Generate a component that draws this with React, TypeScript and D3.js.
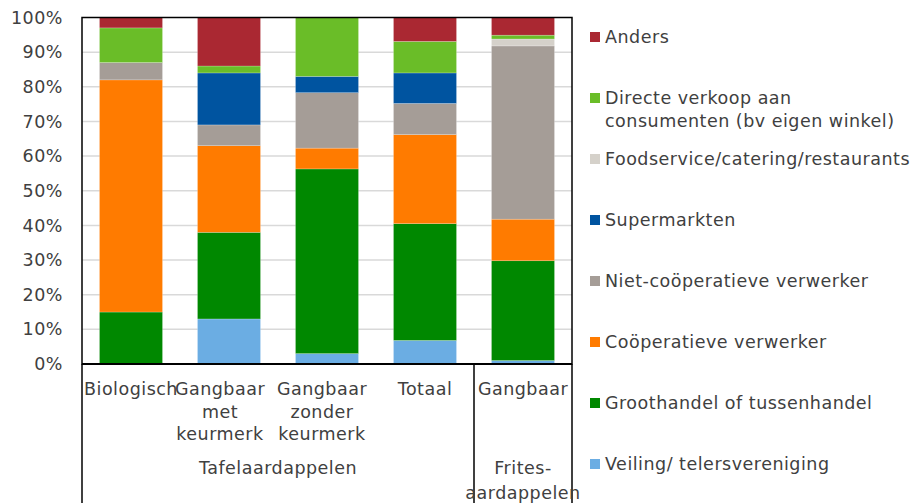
import React, { useRef, useEffect } from 'react';
import * as d3 from 'd3';

// bars, left to right
const categories = ['bio', 'met', 'zonder', 'totaal', 'frites'];
const categoryLabels = [
  ['Biologisch'],
  ['Gangbaar', 'met', 'keurmerk'],
  ['Gangbaar', 'zonder', 'keurmerk'],
  ['Totaal'],
  ['Gangbaar'],
];

// shares in %, per bar
const veiling = [0, 13, 3, 6.8, 1];
const groothandel = [15, 25, 53.3, 33.7, 28.8];
const cooperatief = [67, 25, 6, 25.7, 12];
const nietCooperatief = [5, 6, 16, 9, 50];
const supermarkten = [0, 15, 4.7, 8.8, 0];
const foodservice = [0, 0, 0, 0, 2];
const directe = [10, 2, 17, 9.1, 1.1];
const anders = [3, 14, 0, 6.9, 5.1];

const yTicks = [0, 10, 20, 30, 40, 50, 60, 70, 80, 90, 100];

// bottom to top
const series = [
  { key: 'veiling', label: ['Veiling/ telersvereniging'], color: '#6BADE3', values: veiling },
  { key: 'groot', label: ['Groothandel of tussenhandel'], color: '#008800', values: groothandel },
  { key: 'coop', label: ['Coöperatieve verwerker'], color: '#FF7B00', values: cooperatief },
  { key: 'niet', label: ['Niet-coöperatieve verwerker'], color: '#A59D97', values: nietCooperatief },
  { key: 'super', label: ['Supermarkten'], color: '#0054A0', values: supermarkten },
  { key: 'food', label: ['Foodservice/catering/restaurants'], color: '#D5D1CA', values: foodservice },
  { key: 'direct', label: ['Directe verkoop aan', 'consumenten (bv eigen winkel)'], color: '#6ABD28', values: directe },
  { key: 'anders', label: ['Anders'], color: '#AA2832', values: anders },
];

const groups = [
  { label: ['Tafelaardappelen'], from: 'bio', to: 'totaal' },
  { label: ['Frites-', 'aardappelen'], from: 'frites', to: 'frites' },
];

const FONT = "'DejaVu Sans', sans-serif";
const TEXT = '#404040';

const App = () => {
  const svgRef = useRef<SVGSVGElement>(null);

  useEffect(() => {
    const svg = d3.select(svgRef.current);
    svg.selectAll('*').remove();

    const left = 82, right = 572, top = 17.5, bottom = 364;

    const x = d3.scaleBand()
      .domain(categories)
      .range([left, right])
      .paddingInner(0.357)
      .paddingOuter(0.1785);

    const y = d3.scaleLinear().domain([0, 100]).range([bottom, top]);

    const rows = categories.map((c, i) => {
      const r: any = { cat: c };
      series.forEach(s => { r[s.key] = s.values[i]; });
      return r;
    });
    const stacked = d3.stack().keys(series.map(s => s.key))(rows);

    // gridlines
    svg.append('g')
      .selectAll('line')
      .data(yTicks.slice(1, -1))
      .enter()
      .append('line')
      .attr('x1', left)
      .attr('x2', right)
      .attr('y1', d => y(d))
      .attr('y2', d => y(d))
      .attr('stroke', '#D9D9D9')
      .attr('stroke-width', 1.5);

    // bars
    svg.append('g')
      .selectAll('g')
      .data(stacked)
      .enter()
      .append('g')
      .attr('fill', (d, i) => series[i].color)
      .selectAll('rect')
      .data(d => d)
      .enter()
      .append('rect')
      .attr('x', d => x(d.data.cat as string)!)
      .attr('width', x.bandwidth())
      .attr('y', d => y(d[1]))
      .attr('height', d => y(d[0]) - y(d[1]))
      .attr('stroke', 'rgba(255,255,255,0.35)')
      .attr('stroke-width', 0.6);

    // y axis
    const yAxis = svg.append('g')
      .attr('transform', `translate(${left},0)`)
      .call(d3.axisLeft(y).tickValues(yTicks).tickSize(0).tickPadding(19).tickFormat(d => `${d}%`));
    yAxis.select('.domain').remove();
    yAxis.selectAll('text')
      .attr('font-family', FONT)
      .attr('font-size', 17.5)
      .attr('letter-spacing', 0.5)
      .attr('fill', TEXT);

    // plot frame
    svg.append('rect')
      .attr('x', left)
      .attr('y', top)
      .attr('width', right - left)
      .attr('height', bottom - top)
      .attr('fill', 'none')
      .attr('stroke', '#000')
      .attr('stroke-width', 1.5);
    svg.append('line')
      .attr('x1', left).attr('x2', right)
      .attr('y1', bottom).attr('y2', bottom)
      .attr('stroke', '#000').attr('stroke-width', 2);

    // category axis dividers
    const step = x.step();
    const edges = [left, x('frites')! - (step - x.bandwidth()) / 2, right];
    svg.append('g')
      .selectAll('line')
      .data(edges)
      .enter()
      .append('line')
      .attr('x1', d => d).attr('x2', d => d)
      .attr('y1', bottom).attr('y2', 503)
      .attr('stroke', '#000').attr('stroke-width', 1.5);

    const labelShift = [0, -9, -5, 0, 0];
    const catText = svg.append('g')
      .attr('font-family', FONT)
      .attr('font-size', 17.5)
      .attr('letter-spacing', 0.5)
      .attr('fill', TEXT)
      .attr('text-anchor', 'middle');
    categories.forEach((c, i) => {
      categoryLabels[i].forEach((line, j) => {
        catText.append('text')
          .attr('x', x(c)! + x.bandwidth() / 2 + labelShift[i])
          .attr('y', 389 + j * 22.5)
          .attr('dy', '0.35em')
          .text(line);
      });
    });
    groups.forEach(g => {
      const x0 = x(g.from)! - (step - x.bandwidth()) / 2;
      const x1 = x(g.to)! + x.bandwidth() + (step - x.bandwidth()) / 2;
      g.label.forEach((line, j) => {
        catText.append('text')
          .attr('x', (x0 + x1) / 2)
          .attr('y', 468 + j * 24.5)
          .attr('dy', '0.35em')
          .text(line);
      });
    });

    // legend, top to bottom
    const legendItems = series.slice().reverse();
    const ly = d3.scaleLinear().domain([0, 1]).range([37, 98]);
    const legend = svg.append('g')
      .attr('font-family', FONT)
      .attr('font-size', 17.5)
      .attr('letter-spacing', 0.5)
      .attr('fill', TEXT);
    legendItems.forEach((s, i) => {
      const cy = ly(i);
      legend.append('rect')
        .attr('x', 590)
        .attr('y', cy - 5)
        .attr('width', 10)
        .attr('height', 10)
        .attr('fill', s.color);
      s.label.forEach((line, j) => {
        legend.append('text')
          .attr('x', 605)
          .attr('y', cy + j * 23)
          .attr('dy', '0.35em')
          .text(line);
      });
    });
  }, []);

  return (
    <svg
      ref={svgRef}
      width={912}
      height={503}
      style={{ position: 'absolute', left: 0, top: 0, background: '#fff' }}
    />
  );
};

export default App;
